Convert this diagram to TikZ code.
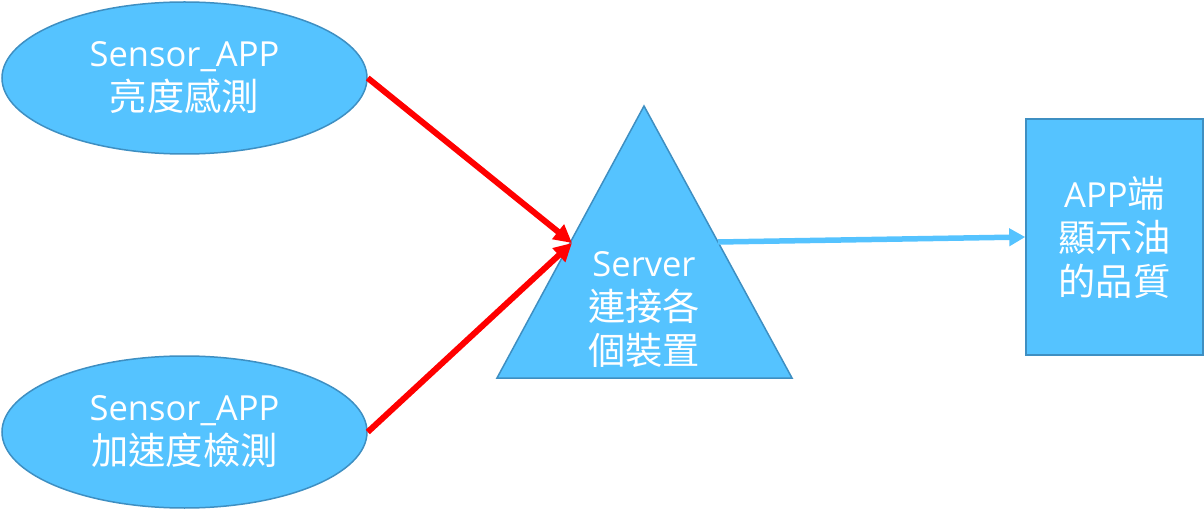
\documentclass[tikz,border=0pt]{standalone}
\usepackage{fontspec}
\setmainfont{Open Sans}
\newfontfamily\cjk[Scale=1.08]{Noto Sans CJK TC}
\usetikzlibrary{shapes.geometric,arrows.meta}
\definecolor{fillblue}{HTML}{55C3FF}
\definecolor{edgeblue}{HTML}{3E8FC2}
\definecolor{arrred}{HTML}{FF0000}
\tikzset{
  txt/.style={text=white,align=center,font=\fontsize{34.5}{44}\selectfont},
  oval/.style={ellipse,draw=edgeblue,fill=fillblue,line width=1.5pt,minimum width=365pt,minimum height=152pt,inner sep=0pt,txt},
  redarr/.style={draw=arrred,line width=6pt,-{Triangle[length=18pt,width=18pt]}},
  bluearr/.style={draw=fillblue,line width=5.5pt,-{Triangle[length=16pt,width=17pt]}},
}
\begin{document}
\begin{tikzpicture}[x=1pt,y=-1pt]
\useasboundingbox (0,0) rectangle (1204,510);
\node[oval] (e1) at (184.5,78) {Sensor\_APP\\{\cjk 亮度感測}};
\node[oval] (e2) at (184.5,432) {Sensor\_APP\\{\cjk 加速度檢測}};
\draw[draw=edgeblue,fill=fillblue,line width=1.5pt] (644,106) -- (792,378) -- (497,378) -- cycle;
\node[txt] (srv) at (644,310) {Server\\{\cjk 連接各}\\{\cjk 個裝置}};
\node[draw=edgeblue,fill=fillblue,line width=1.5pt,minimum width=177pt,minimum height=236pt,inner sep=0pt,txt] (app) at (1114.5,237) {APP{\cjk 端}\\{\cjk 顯示油}\\{\cjk 的品質}};
\coordinate (tin) at (572,243);
\coordinate (tout) at (718,242);
\draw[redarr] (e1.east) -- (tin);
\draw[redarr] (e2.east) -- (tin);
\draw[bluearr] (tout) -- (app.west);
\end{tikzpicture}
\end{document}
